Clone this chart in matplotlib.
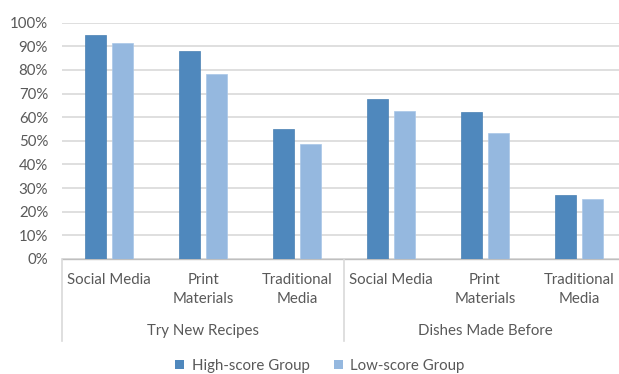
import matplotlib
matplotlib.use("Agg")
import matplotlib.pyplot as plt
import numpy as np
from matplotlib.ticker import PercentFormatter
from matplotlib.patches import Patch

plt.rcParams['font.family'] = ['Lato', 'DejaVu Sans']

groups = ["Try New Recipes", "Dishes Made Before"]
categories = ["Social Media", "Print\nMaterials", "Traditional\nMedia"]
series_names = ["High-score Group", "Low-score Group"]
high_score = [94.6, 88.0, 54.9, 67.7, 62.2, 27.0]
low_score = [91.2, 78.1, 48.5, 62.6, 53.5, 25.5]
y_ticks = [0, 10, 20, 30, 40, 50, 60, 70, 80, 90, 100]

colors = ["#4F88BD", "#95B8DF"]
text_color = "#595959"
grid_color = "#D9D9D9"

W, H = 619, 374
fig = plt.figure(figsize=(W / 100, H / 100), dpi=100)
# plot area in pixels: left 62, top 23, bottom 259, category width 94
left, top, bottom, cat_w = 62, 22.7, 259, 94
n = len(high_score)
ax = fig.add_axes([left / W, 1 - bottom / H, n * cat_w / W, (bottom - top) / H])

x = np.arange(n)
bw = 0.22
gap = 0.064
off = (bw + gap) / 2
ax.bar(x - off, high_score, bw, color=colors[0], edgecolor="#4A80B2", linewidth=0.5, zorder=3)
ax.bar(x + off, low_score, bw, color=colors[1], edgecolor="#A8C6E8", linewidth=0.5, zorder=3)

ax.set_xlim(-0.5, n - 0.5)
ax.set_ylim(0, 100)
ax.set_yticks(y_ticks)
ax.yaxis.set_major_formatter(PercentFormatter(decimals=0))
ax.grid(axis="y", color=grid_color, linewidth=1.2, zorder=0)
ax.set_axisbelow(True)
for s in ["top", "right", "left"]:
    ax.spines[s].set_visible(False)
ax.spines["bottom"].set_color("#BFBFBF")
ax.spines["bottom"].set_linewidth(1.0)
ax.tick_params(axis="y", length=0, pad=10, labelsize=10.8, labelcolor=text_color)
ax.tick_params(axis="x", length=0, labelbottom=False)

# category labels and group labels below the axis
def fy(py):
    return 1 - py / H

for i in range(n):
    xf = (left + (i + 0.5) * cat_w) / W
    fig.text(xf, fy(273.5), categories[i % 3], ha="center", va="top",
             fontsize=10.8, color=text_color, linespacing=1.42)
for g, name in enumerate(groups):
    xf = (left + (g * 3 + 1.5) * cat_w) / W
    fig.text(xf, fy(331), name, ha="center", va="center", fontsize=10.8, color=text_color)

# vertical separators of the category table
for g in range(len(groups) + 1):
    xp = (left + g * 3 * cat_w) / W
    fig.add_artist(plt.Line2D([xp, xp], [fy(259), fy(341)], color="#D9D9D9", linewidth=1.2))

handles = [Patch(facecolor=c, edgecolor="none") for c in colors]
fig.legend(handles, series_names, loc="center", bbox_to_anchor=(320 / W, fy(366)),
           ncol=2, frameon=False, fontsize=10.8, labelcolor=text_color,
           handlelength=0.6, handleheight=0.6, handletextpad=0.5, columnspacing=1.6)

fig.savefig("out.png", dpi=100)
